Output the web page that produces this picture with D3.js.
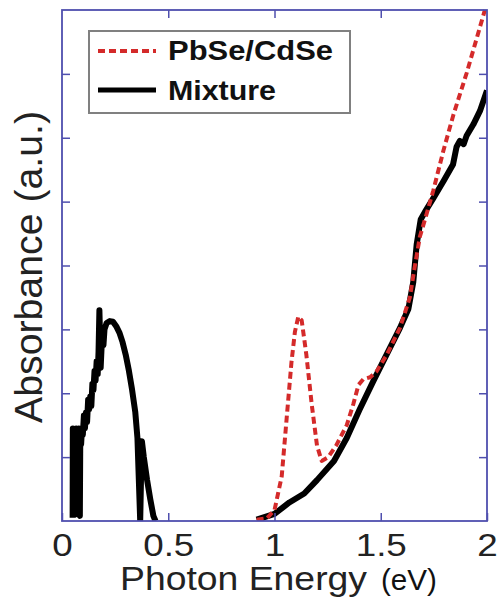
<!DOCTYPE html>
<html>
<head>
<meta charset="utf-8">
<script src="https://cdn.jsdelivr.net/npm/d3@7"></script>
<style>
  html, body { margin: 0; padding: 0; background: #ffffff; }
  svg { display: block; }
  text { font-family: "Liberation Sans", Arial, sans-serif; }
</style>
</head>
<body>
<svg id="chart" width="497" height="597"></svg>
<script>
// ---------- data ----------
const xTicks = [0, 0.5, 1, 1.5, 2];
const xTickLabels = ["0", "0.5", "1", "1.5", "2"];
const yTicks = [1, 2, 3, 4, 5, 6, 7];
const seriesNames = ["PbSe/CdSe", "Mixture"];
const xLabelMain = "Photon Energy";
const xLabelUnit = "(eV)";
const yLabel = "Absorbance (a.u.)";

// PbSe/CdSe core/shell (red dashed)
const pbseEnergy = [0.916, 0.963, 1.0, 1.034, 1.057, 1.08, 1.096, 1.112, 1.128, 1.15, 1.175, 1.2, 1.222, 1.253, 1.29, 1.34, 1.371, 1.395, 1.418, 1.45, 1.48, 1.528, 1.59, 1.637, 1.66, 1.684, 1.716, 1.747, 1.795, 1.842, 1.904, 1.951, 1.99];
const pbseAbs    = [0.02, 0.04, 0.17, 0.7, 1.6, 2.49, 2.96, 3.2, 3.14, 2.6, 1.83, 1.18, 0.94, 1.0, 1.18, 1.5, 1.83, 2.13, 2.22, 2.25, 2.34, 2.6, 3.02, 3.5, 3.98, 4.45, 4.81, 5.17, 5.8, 6.36, 7.01, 7.55, 8.0];

// Mixture (black): low-energy PbSe band (noisy) then high-energy CdSe band
const mixLowEnergy = [0.050, 0.051, 0.053, 0.055, 0.057, 0.059, 0.061, 0.064, 0.067, 0.070, 0.073, 0.076, 0.079, 0.081, 0.084, 0.086, 0.090, 0.094, 0.098, 0.103, 0.108, 0.113, 0.118, 0.123, 0.128, 0.133, 0.138, 0.143, 0.148, 0.153, 0.158, 0.163, 0.168, 0.172, 0.176, 0.179, 0.182, 0.186, 0.190, 0.195, 0.200, 0.210, 0.225, 0.240, 0.255, 0.270, 0.285, 0.300, 0.315, 0.330, 0.345, 0.355, 0.362, 0.368, 0.372, 0.376, 0.385, 0.400, 0.415, 0.430, 0.440];
const mixLowAbs    = [0.05, 1.45, 1.1, 1.4, 0.1, 0.1, 1.35, 1.2, 1.45, 1.25, 1.4, 1.1, 1.45, 0.1, 0.08, 1.3, 1.2, 1.45, 1.35, 1.65, 1.45, 1.7, 1.55, 1.9, 1.75, 1.95, 1.8, 2.15, 2.05, 2.35, 2.2, 2.5, 2.3, 2.65, 3.3, 2.9, 2.4, 2.7, 2.85, 2.75, 3.0, 3.1, 3.13, 3.12, 3.05, 2.95, 2.8, 2.6, 2.35, 2.05, 1.7, 1.3, 0.6, 0.0, 0.7, 1.25, 1.0, 0.65, 0.35, 0.08, 0.0];
const mixHighEnergy = [0.916, 1.0, 1.07, 1.14, 1.2, 1.28, 1.34, 1.40, 1.465, 1.528, 1.59, 1.63, 1.653, 1.669, 1.688, 1.708, 1.747, 1.795, 1.84, 1.857, 1.872, 1.89, 1.904, 1.936, 1.967, 2.0];
const mixHighAbs    = [0.02, 0.11, 0.29, 0.43, 0.64, 0.94, 1.3, 1.74, 2.19, 2.61, 3.02, 3.32, 3.74, 4.33, 4.72, 4.84, 5.05, 5.32, 5.58, 5.86, 5.95, 5.9, 6.03, 6.21, 6.42, 6.74];

// ---------- layout ----------
const svg = d3.select("#chart");
const frame = { left: 62, right: 487, top: 10, bottom: 521 };
const axisColor = "#4f4fae";

const x = d3.scaleLinear().domain([0, 2]).range([frame.left, frame.right]);
const y = d3.scaleLinear().domain([0, 8]).range([frame.bottom, frame.top]);

svg.append("rect").attr("width", 497).attr("height", 597).attr("fill", "#fff");

svg.append("defs").append("clipPath").attr("id", "plotclip")
  .append("rect")
  .attr("x", frame.left).attr("y", frame.top - 2)
  .attr("width", frame.right - frame.left).attr("height", frame.bottom - frame.top + 2);

// ---------- curves ----------
const line = d3.line().x(d => x(d[0])).y(d => y(d[1]));
const curves = svg.append("g").attr("clip-path", "url(#plotclip)");

const mixLow = mixLowEnergy.map((e, i) => [e, mixLowAbs[i]]);
const mixHigh = mixHighEnergy.map((e, i) => [e, mixHighAbs[i]]);
const pbse = pbseEnergy.map((e, i) => [e, pbseAbs[i]]);

[mixLow, mixHigh].forEach(seg => {
  curves.append("path").datum(seg)
    .attr("d", line)
    .attr("fill", "none")
    .attr("stroke", "#000")
    .attr("stroke-width", 6)
    .attr("stroke-linejoin", "round")
    .attr("stroke-linecap", "butt");
});

curves.append("path").datum(pbse)
  .attr("d", line)
  .attr("fill", "none")
  .attr("stroke", "#d42a2a")
  .attr("stroke-width", 4)
  .attr("stroke-dasharray", "7,4")
  .attr("stroke-linejoin", "round");

// ---------- axes (inward ticks on all four sides) ----------
const tickLen = 8;
const bottomAxis = d3.axisBottom(x).tickValues(xTicks)
  .tickFormat((d, i) => xTickLabels[i])
  .tickSizeInner(-tickLen).tickSizeOuter(0).tickPadding(12);
const gB = svg.append("g").attr("transform", `translate(0,${frame.bottom})`).call(bottomAxis);
gB.select(".domain").remove();
gB.selectAll(".tick line").attr("stroke", axisColor).attr("stroke-width", 1.5);
gB.selectAll(".tick text")
  .attr("font-size", 32).attr("fill", "#222")
  .attr("font-family", "Liberation Sans, Arial, sans-serif")
  .attr("transform", "scale(1.15,1)");

const topAxis = d3.axisTop(x).tickValues(xTicks.slice(1, -1))
  .tickFormat("").tickSizeInner(-tickLen).tickSizeOuter(0);
const gT = svg.append("g").attr("transform", `translate(0,${frame.top})`).call(topAxis);
gT.select(".domain").remove();
gT.selectAll(".tick line").attr("stroke", axisColor).attr("stroke-width", 1.5);

const leftAxis = d3.axisLeft(y).tickValues(yTicks).tickFormat("")
  .tickSizeInner(-tickLen).tickSizeOuter(0);
const gL = svg.append("g").attr("transform", `translate(${frame.left},0)`).call(leftAxis);
gL.select(".domain").remove();
gL.selectAll(".tick line").attr("stroke", axisColor).attr("stroke-width", 1.5);

const rightAxis = d3.axisRight(y).tickValues(yTicks).tickFormat("")
  .tickSizeInner(-tickLen).tickSizeOuter(0);
const gR = svg.append("g").attr("transform", `translate(${frame.right},0)`).call(rightAxis);
gR.select(".domain").remove();
gR.selectAll(".tick line").attr("stroke", axisColor).attr("stroke-width", 1.5);

svg.append("rect")
  .attr("x", frame.left).attr("y", frame.top)
  .attr("width", frame.right - frame.left).attr("height", frame.bottom - frame.top)
  .attr("fill", "none").attr("stroke", axisColor).attr("stroke-width", 1.8);

// ---------- axis labels ----------
svg.append("text").text(xLabelMain)
  .attr("x", 120).attr("y", 590)
  .attr("font-size", 33).attr("fill", "#222")
  .attr("textLength", 247).attr("lengthAdjust", "spacingAndGlyphs");
svg.append("text").text(xLabelUnit)
  .attr("x", 381).attr("y", 590)
  .attr("font-size", 29).attr("fill", "#111")
  .attr("textLength", 56).attr("lengthAdjust", "spacingAndGlyphs");

svg.append("text").text(yLabel)
  .attr("transform", "translate(42,267) rotate(-90)")
  .attr("text-anchor", "middle")
  .attr("font-size", 38).attr("fill", "#222")
  .attr("textLength", 312).attr("lengthAdjust", "spacingAndGlyphs");

// ---------- legend ----------
const legend = svg.append("g");
legend.append("rect")
  .attr("x", 89).attr("y", 31).attr("width", 261).attr("height", 82)
  .attr("fill", "#fff").attr("stroke", "#808080").attr("stroke-width", 2);

const legendItems = [
  { name: seriesNames[0], color: "#d42a2a", dash: "7,4", width: 4, ly: 51, ty: 60, tl: 165 },
  { name: seriesNames[1], color: "#000", dash: null, width: 5, ly: 90, ty: 100, tl: 108 }
];
legendItems.forEach(it => {
  legend.append("line")
    .attr("x1", 98).attr("x2", 156).attr("y1", it.ly).attr("y2", it.ly)
    .attr("stroke", it.color).attr("stroke-width", it.width)
    .attr("stroke-dasharray", it.dash);
  legend.append("text").text(it.name)
    .attr("x", 168).attr("y", it.ty)
    .attr("font-size", 27).attr("font-weight", "bold").attr("fill", "#111")
    .attr("textLength", it.tl).attr("lengthAdjust", "spacingAndGlyphs");
});
</script>
</body>
</html>
